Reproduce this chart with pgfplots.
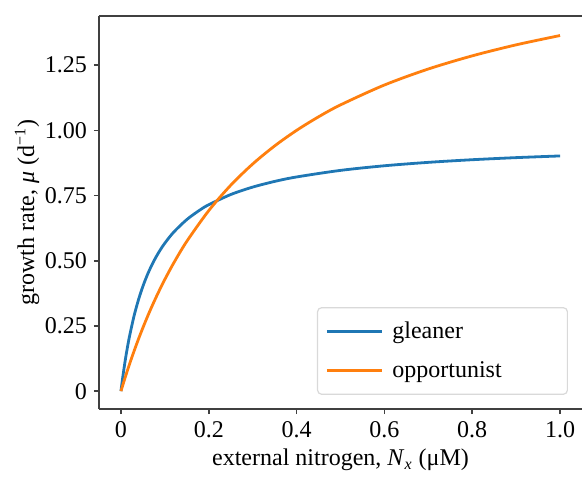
\documentclass[border=0pt]{standalone}
\usepackage{fontspec}
\setmainfont{Liberation Serif}
\usepackage{pgfplots}
\pgfplotsset{compat=1.18}
\definecolor{tabblue}{HTML}{1F77B4}
\definecolor{taborange}{HTML}{FF7F0E}
\begin{document}
\begin{tikzpicture}
\begin{axis}[
  scale only axis, width=241.5pt, height=196.5pt,
  xmin=-0.05, xmax=1.05, ymin=-0.0685, ymax=1.4385,
  xtick={0,0.2,0.4,0.6,0.8,1.0}, xticklabels={0,0.2,0.4,0.6,0.8,1.0},
  ytick={0,0.25,0.5,0.75,1,1.25}, yticklabels={0,0.25,0.50,0.75,1.00,1.25},
  tick align=outside, xtick pos=left, ytick pos=left,
  major tick length=2.5pt,
  axis x line*=box, axis y line*=left,
  axis line style={-, black!75, line width=0.8pt},
  x axis line style={-}, y axis line style={-},
  every tick/.style={black!75, line width=0.8pt},
  tick label style={font=\fontsize{12}{14}\selectfont},
  /pgf/number format/assume math mode=true,
  xlabel={external nitrogen, \textit{N}\textsubscript{\textit{x}} (μM)},
  ylabel={growth rate, \textit{μ} (d\textsuperscript{−1})},
  label style={font=\fontsize{12}{14}\selectfont},
  xlabel style={at={(axis description cs:0.5,-0.13)}, anchor=center},
  ylabel style={at={(axis description cs:-0.149,0.5)}, anchor=center},
  legend style={at={(axis description cs:0.971,0.036)}, anchor=south east,
    draw=black!15, rounded corners=2pt, line width=0.6pt,
    font=\fontsize{12}{14}\selectfont, inner xsep=4pt, inner ysep=5pt, row sep=6pt},
  legend image code/.code={\draw[#1, line width=1.4pt, rounded corners=0pt] (0pt,0pt) -- (27.5pt,0pt); \path (30pt,0pt);},
  legend cell align=left,
]
\addplot[tabblue, line width=1.4pt, smooth] coordinates {
(0,0) (0.0025,0.0333) (0.005,0.0643) (0.01,0.1206) (0.015,0.1703) (0.02,0.2144)
(0.03,0.2895) (0.04,0.3509) (0.05,0.4021) (0.06,0.4454) (0.07,0.4825) (0.08,0.5147)
(0.09,0.5428) (0.10,0.5676) (0.12,0.6095) (0.15,0.6580) (0.18,0.6948) (0.2,0.7148)
(0.25,0.7539) (0.3,0.7824) (0.35,0.8042) (0.4,0.8213) (0.5,0.8465) (0.6,0.8642)
(0.7,0.8773) (0.8,0.8874) (0.9,0.8954) (1.0,0.9019)};
\addlegendentry{\makebox[81.5pt][l]{gleaner}}
\addplot[taborange, line width=1.4pt, smooth] coordinates {
(0,0) (0.01,0.0545) (0.02,0.1059) (0.03,0.1543) (0.04,0.2) (0.05,0.2432)
(0.06,0.2842) (0.07,0.3231) (0.08,0.36) (0.09,0.3951) (0.1,0.4286) (0.12,0.4909)
(0.15,0.5745) (0.2,0.6923) (0.25,0.7895) (0.3,0.8710) (0.35,0.9403) (0.4,1.0)
(0.45,1.0519) (0.5,1.0976) (0.6,1.1739) (0.7,1.2353) (0.8,1.2857) (0.9,1.3279)
(1.0,1.3636)};
\addlegendentry{\makebox[81.5pt][l]{opportunist}}
\end{axis}
\pgfresetboundingbox
\path[use as bounding box] ([xshift=-49.5pt,yshift=-33.5pt]current axis.south west) rectangle ([yshift=8pt]current axis.north east);
\end{tikzpicture}
\end{document}
